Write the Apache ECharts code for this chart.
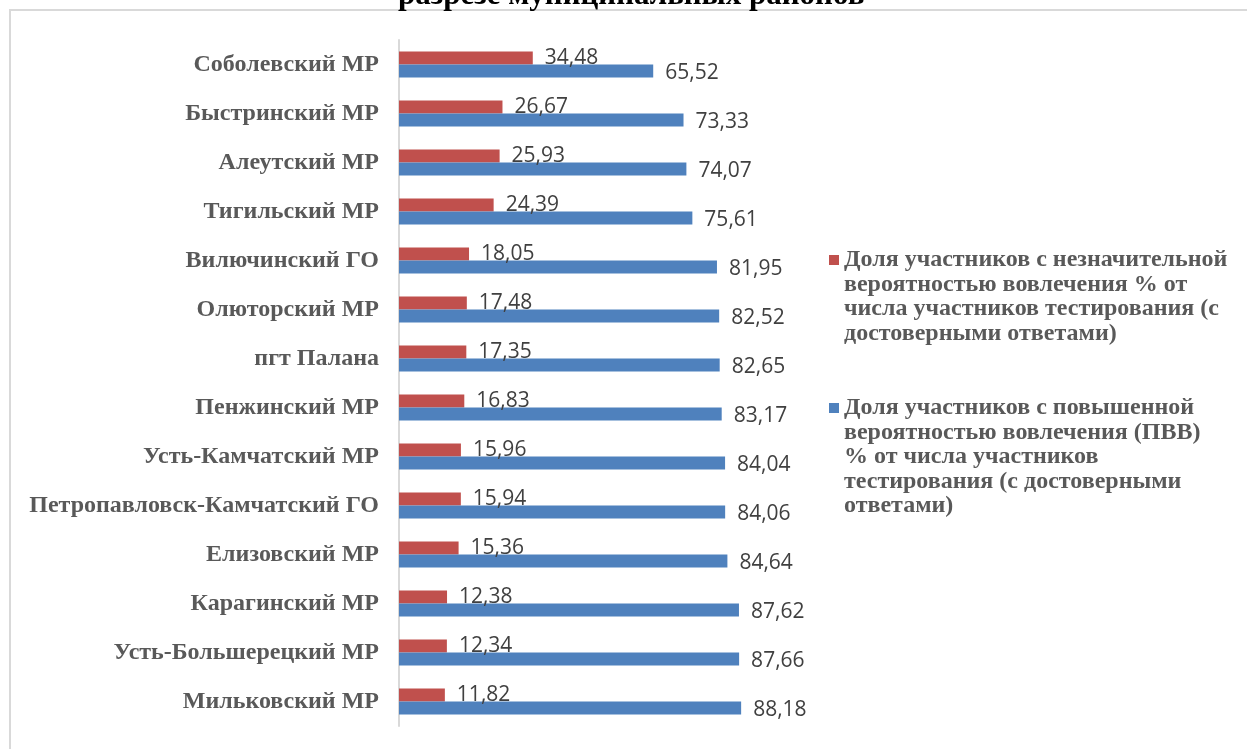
<!DOCTYPE html>
<html>
<head>
<meta charset="utf-8">
<script src="https://cdn.jsdelivr.net/npm/echarts@6/dist/echarts.min.js"></script>
<style>
  html, body { margin: 0; padding: 0; background: #fff; }
  #main { width: 1247px; height: 749px; }
</style>
</head>
<body>
<div id="main"></div>
<script>
// районы (сверху вниз)
var districts = [
  'Соболевский МР', 'Быстринский МР', 'Алеутский МР', 'Тигильский МР',
  'Вилючинский ГО', 'Олюторский МР', 'пгт Палана', 'Пенжинский МР',
  'Усть-Камчатский МР', 'Петропавловск-Камчатский ГО', 'Елизовский МР',
  'Карагинский МР', 'Усть-Большерецкий МР', 'Мильковский МР'
];
// доля с незначительной вероятностью вовлечения, %
var lowShare = [34.48, 26.67, 25.93, 24.39, 18.05, 17.48, 17.35, 16.83, 15.96, 15.94, 15.36, 12.38, 12.34, 11.82];
// доля с повышенной вероятностью вовлечения (ПВВ), %
var highShare = [65.52, 73.33, 74.07, 75.61, 81.95, 82.52, 82.65, 83.17, 84.04, 84.06, 84.64, 87.62, 87.66, 88.18];

var lowName = 'Доля участников с незначительной\nвероятностью вовлечения % от\nчисла участников тестирования (с\nдостоверными ответами)';
var highName = 'Доля участников с повышенной\nвероятностью вовлечения (ПВВ)\n% от числа участников\nтестирования (с достоверными\nответами)';

var LH = 24.5; // высота строки легенды
var serif = '"Liberation Serif", "DejaVu Serif", serif';
var legendText = { fontFamily: serif, fontWeight: 'bold', fontSize: 24, lineHeight: LH, color: '#595959' };

function fmt(p) {
  return p.value.toFixed(2).replace('.', ',');
}

// значок легенды должен стоять у первой строки, поэтому сверху добавляем пустые строки
function padTop(name) {
  var n = name.split('\n').length;
  return new Array(n).join('\n') + name;
}

var chart = echarts.init(document.getElementById('main'));

var option = {
  backgroundColor: '#fff',
  animation: false,
  title: {
    text: 'разрезе муниципальных районов',
    left: 398,
    top: -20,
    padding: 0,
    textStyle: { fontFamily: serif, fontWeight: 'bold', fontSize: 31, color: '#000' }
  },
  graphic: [{
    type: 'rect',
    left: 9, top: 9, z: -1,
    shape: { width: 1300, height: 800 },
    style: { fill: '#fff', stroke: '#d9d9d9', lineWidth: 2 }
  }],
  legend: [{
    orient: 'vertical',
    left: 829,
    top: 260 - 3.5 * LH,
    padding: 0,
    itemWidth: 10,
    itemHeight: 10,
    itemGap: 7,
    icon: 'rect',
    data: [lowName],
    formatter: padTop,
    textStyle: legendText
  }, {
    orient: 'vertical',
    left: 829,
    top: 408 - 4.5 * LH,
    padding: 0,
    itemWidth: 10,
    itemHeight: 10,
    itemGap: 7,
    icon: 'rect',
    data: [highName],
    formatter: padTop,
    textStyle: legendText
  }],
  grid: {
    left: 399,
    top: 40,
    width: 388,
    height: 686,
    containLabel: false
  },
  xAxis: {
    type: 'value',
    min: 0,
    max: 100,
    show: false
  },
  yAxis: {
    type: 'category',
    inverse: true,
    data: districts,
    axisLine: { show: true, lineStyle: { color: '#d9d9d9', width: 2 } },
    axisTick: { show: false },
    axisLabel: {
      margin: 20,
      fontFamily: serif,
      fontWeight: 'bold',
      fontSize: 24,
      color: '#595959'
    }
  },
  series: [{
    name: lowName,
    type: 'bar',
    data: lowShare,
    barWidth: 13,
    barGap: '0%',
    itemStyle: { color: '#c0504d' },
    label: {
      show: true,
      position: 'right',
      distance: 12,
      formatter: fmt,
      fontFamily: '"Open Sans", sans-serif',
      fontSize: 21,
      color: '#404040'
    }
  }, {
    name: highName,
    type: 'bar',
    data: highShare,
    barWidth: 13,
    barGap: '0%',
    itemStyle: { color: '#4f81bd' },
    label: {
      show: true,
      position: 'right',
      distance: 12,
      offset: [0, 2],
      formatter: fmt,
      fontFamily: '"Open Sans", sans-serif',
      fontSize: 21,
      color: '#404040'
    }
  }]
};

chart.setOption(option);
</script>
</body>
</html>
